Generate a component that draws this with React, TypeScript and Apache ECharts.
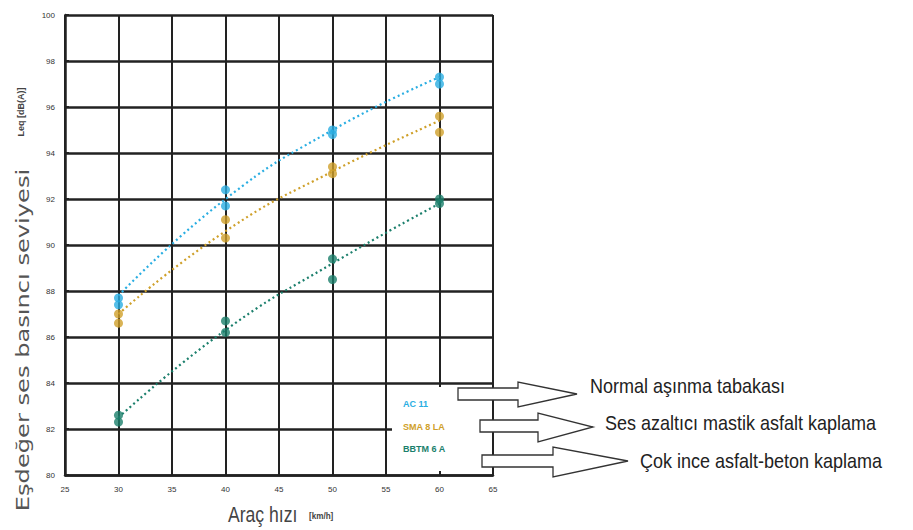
import React, { useEffect, useRef } from "react";
import * as echarts from "echarts";

const speeds = [30, 40, 50, 60];
const ac11A = [87.7, 92.4, 95.0, 97.3];
const ac11B = [87.4, 91.7, 94.8, 97.0];
const sma8A = [87.0, 91.1, 93.4, 95.6];
const sma8B = [86.6, 90.3, 93.1, 94.9];
const bbtmA = [82.6, 86.7, 89.4, 92.0];
const bbtmB = [82.3, 86.2, 88.5, 91.8];
const ac11Trend = [87.8, 92.0, 95.0, 97.3];
const sma8Trend = [87.0, 90.6, 93.2, 95.4];
const bbtmTrend = [82.5, 86.3, 89.2, 91.8];

const seriesNames = ["AC 11", "SMA 8 LA", "BBTM 6 A"];
const seriesColors = ["#2aaee2", "#cfa02a", "#1b7f6c"];
const arrowLabels = [
  "Normal aşınma tabakası",
  "Ses azaltıcı mastik asfalt kaplama",
  "Çok ince asfalt-beton kaplama",
];

const pairs = (xs: number[], ys: number[]) => xs.map((x, i) => [x, ys[i]]);

export default function App() {
  const ref = useRef<HTMLDivElement>(null);
  useEffect(() => {
    if (!ref.current) return;
    const chart = echarts.init(ref.current, undefined, { renderer: "svg" });
    const pts = [
      [ac11A, ac11B, ac11Trend],
      [sma8A, sma8B, sma8Trend],
      [bbtmA, bbtmB, bbtmTrend],
    ];
    const series: any[] = [];
    pts.forEach((p, i) => {
      series.push({
        type: "line",
        name: seriesNames[i] + " trend",
        data: pairs(speeds, p[2]),
        smooth: true,
        showSymbol: false,
        lineStyle: { color: seriesColors[i], width: 2.2, type: [2, 3] },
        z: 3,
      });
      series.push({
        type: "scatter",
        name: seriesNames[i],
        data: pairs(speeds, p[0]).concat(pairs(speeds, p[1])),
        symbol: "circle",
        symbolSize: 9,
        itemStyle: { color: seriesColors[i] },
        z: 4,
      });
    });

    const arrows = [
      [[458, 388], [518, 388], [518, 382], [577, 394], [518, 407], [518, 400], [458, 400]],
      [[480, 420], [538, 420], [538, 413], [593, 427], [538, 442], [538, 432], [480, 432]],
      [[482, 455], [553, 455], [553, 447], [628, 461], [553, 477], [553, 467], [482, 467]],
    ];
    const textPos = [
      [590, 386],
      [605, 423],
      [640, 461],
    ];

    const graphic: any[] = [
      { type: "rect", shape: { x: 392, y: 387, width: 98, height: 84 }, style: { fill: "#fff" }, z: 10 },
      ...seriesNames.map((n, i) => ({
        type: "text",
        x: 403,
        y: 404 + i * 22.5,
        z: 12,
        style: {
          text: n,
          fill: seriesColors[i],
          font: "bold 9px 'Liberation Sans', Arial, sans-serif",
          verticalAlign: "middle",
        },
      })),
      ...arrows.map((a) => ({
        type: "polygon",
        z: 11,
        shape: { points: a },
        style: { fill: "#fff", stroke: "#333", lineWidth: 1.3 },
      })),
      ...arrowLabels.map((t, i) => ({
        type: "text",
        x: textPos[i][0],
        y: textPos[i][1],
        scaleX: 0.9,
        z: 12,
        style: {
          text: t,
          fill: "#222",
          font: "20px 'Liberation Sans', sans-serif",
          verticalAlign: "middle",
        },
      })),
      {
        type: "text",
        x: 23,
        y: 340,
        rotation: Math.PI / 2,
        scaleX: 1.42,
        z: 12,
        style: {
          text: "Eşdeğer ses basıncı seviyesi",
          fill: "#555",
          font: "17px 'DejaVu Sans', sans-serif",
          align: "center",
          verticalAlign: "middle",
        },
      },
      {
        type: "text",
        x: 21,
        y: 112,
        rotation: Math.PI / 2,
        z: 12,
        style: {
          text: "Leq [dB(A)]",
          fill: "#444",
          font: "bold 9px 'Liberation Sans', sans-serif",
          align: "center",
          verticalAlign: "middle",
        },
      },
      {
        type: "text",
        x: 228,
        y: 514,
        scaleX: 0.8,
        z: 12,
        style: {
          text: "Araç hızı",
          fill: "#444",
          font: "22px 'Liberation Sans', sans-serif",
          verticalAlign: "middle",
        },
      },
      {
        type: "text",
        x: 309,
        y: 516,
        scaleX: 0.9,
        z: 12,
        style: {
          text: "[km/h]",
          fill: "#444",
          font: "bold 9px 'Liberation Sans', sans-serif",
          verticalAlign: "middle",
        },
      },
    ];

    chart.setOption({
      animation: false,
      backgroundColor: "#fff",
      grid: { left: 65, right: 420, top: 15, bottom: 55 },
      xAxis: {
        type: "value",
        min: 25,
        max: 65,
        interval: 5,
        axisLine: { show: true, lineStyle: { color: "#222", width: 2.5 } },
        axisTick: { show: true, inside: true, length: 4, lineStyle: { color: "#222", width: 2 } },
        axisLabel: { fontSize: 8, color: "#333", margin: 10, fontFamily: "'Liberation Sans', sans-serif" },
        splitLine: { show: true, lineStyle: { color: "#222", width: 2 } },
      },
      yAxis: {
        type: "value",
        min: 80,
        max: 100,
        interval: 2,
        axisLine: { show: true, lineStyle: { color: "#222", width: 2.5 } },
        axisTick: { show: true, inside: true, length: 4, lineStyle: { color: "#222", width: 2 } },
        axisLabel: { fontSize: 8, color: "#333", margin: 10, fontFamily: "'Liberation Sans', sans-serif" },
        splitLine: { show: true, lineStyle: { color: "#222", width: 2.5 } },
      },
      series,
      graphic,
    });
    return () => chart.dispose();
  }, []);
  return <div ref={ref} style={{ width: 913, height: 530, position: "absolute", left: 0, top: 0 }} />;
}
